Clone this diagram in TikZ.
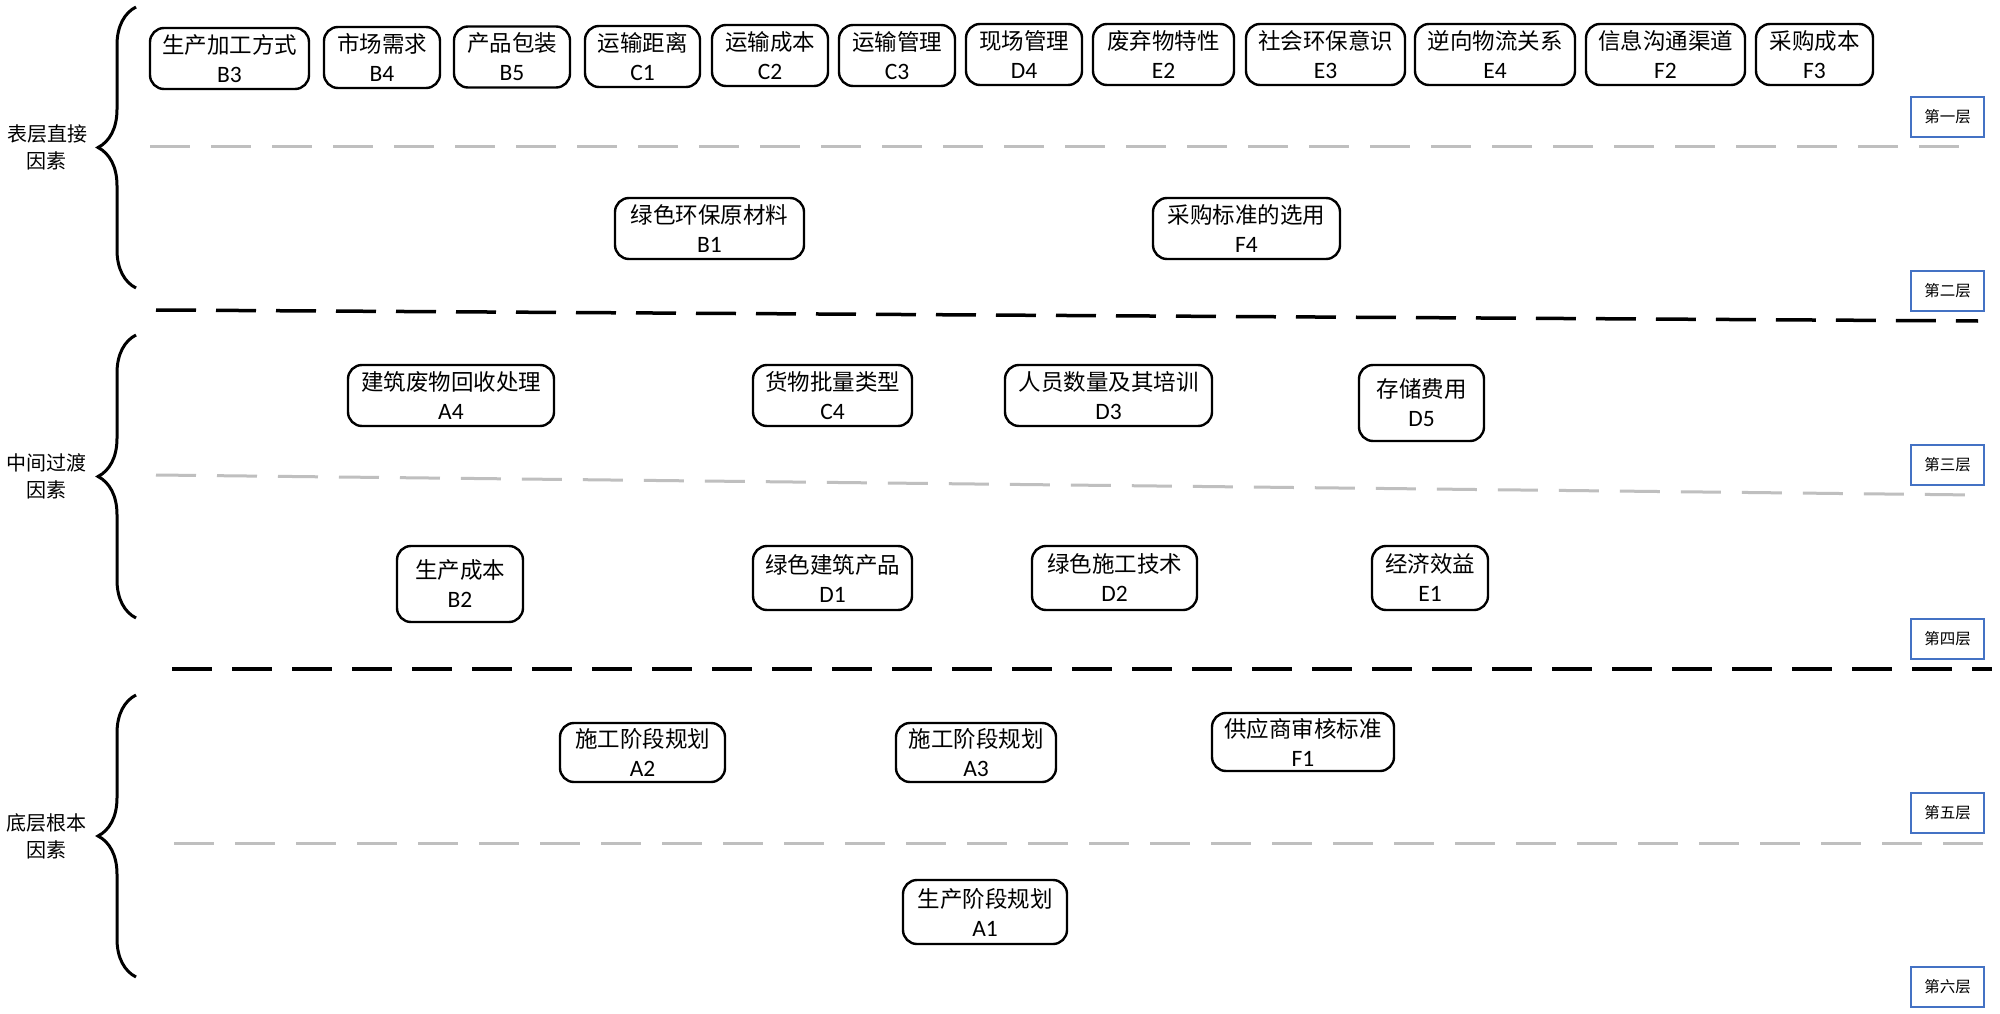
\documentclass[tikz,border=0pt]{standalone}
\usepackage{fontspec}
\setmainfont{Carlito}
\newfontfamily\cjk{Noto Sans CJK SC}
\usetikzlibrary{decorations.pathreplacing}
\definecolor{lvlblue}{RGB}{68,114,196}
\definecolor{sepgray}{RGB}{191,191,191}
\tikzset{
  fbox/.style={draw=black, line width=2.4pt, rounded corners=14pt, inner sep=0pt, align=center,
    font=\fontsize{22.5}{29}\selectfont},
  lvlbox/.style={draw=lvlblue, line width=2pt, fill=white, inner sep=0pt, minimum width=73pt,
    minimum height=40pt, font=\cjk\fontsize{15.5}{18}\selectfont},
  grouplabel/.style={align=center, inner sep=0pt, font=\cjk\fontsize{20}{27}\selectfont},
  graysep/.style={draw=sepgray, line width=3pt, dash pattern=on 40pt off 21pt},
  blacksep/.style={draw=black, line width=3.5pt, dash pattern=on 40pt off 20pt},
  bracestyle/.style={draw=black, line width=3pt, decorate, decoration={brace, amplitude=38pt}}
}
\newcommand\fac[6]{\node[fbox, minimum width=#4pt, minimum height=#5pt] (#1) at (#2,#3) {{\cjk #6}\\{\fontsize{23.5}{29}\selectfont #1}};}
\begin{document}
\begin{tikzpicture}[x=1pt,y=-1pt]
\useasboundingbox[fill=white] (0,0) rectangle (2000,1014);
% braces
\coordinate (br1t) at (136,7);   \coordinate (br1b) at (136,288);
\coordinate (br2t) at (136,335); \coordinate (br2b) at (136,618);
\coordinate (br3t) at (136,695); \coordinate (br3b) at (136,977);
\draw[bracestyle] (br1b) -- (br1t);
\draw[bracestyle] (br2b) -- (br2t);
\draw[bracestyle] (br3b) -- (br3t);
\node[grouplabel] (g1) at (47,147) {表层直接\\因素};
\node[grouplabel] (g2) at (46,476) {中间过渡\\因素};
\node[grouplabel] (g3) at (46,836) {底层根本\\因素};
% separators
\coordinate (s1a) at (150,147); \coordinate (s1b) at (1971,147);
\coordinate (s2a) at (156,310); \coordinate (s2b) at (1978,321);
\coordinate (s3a) at (156,475); \coordinate (s3b) at (1976,495);
\coordinate (s4a) at (172,669); \coordinate (s4b) at (1992,669);
\coordinate (s5a) at (174,843); \coordinate (s5b) at (1995,843);
\draw[graysep] (s1a) -- (s1b);
\draw[blacksep] (s2a) -- (s2b);
\draw[graysep] (s3a) -- (s3b);
\draw[blacksep] (s4a) -- (s4b);
\draw[graysep] (s5a) -- (s5b);
% layer 1
\fac{B3}{229.5}{58.5}{159}{61}{生产加工方式}
\fac{B4}{382}{57.5}{116}{61}{市场需求}
\fac{B5}{512}{57}{116}{61}{产品包装}
\fac{C1}{642.5}{56.5}{115}{61}{运输距离}
\fac{C2}{770}{55.5}{116}{61}{运输成本}
\fac{C3}{897}{55.5}{116}{61}{运输管理}
\fac{D4}{1024}{54.5}{116}{61}{现场管理}
\fac{E2}{1163.5}{54.5}{141}{61}{废弃物特性}
\fac{E3}{1325.5}{54.5}{159}{61}{社会环保意识}
\fac{E4}{1495}{54.5}{160}{61}{逆向物流关系}
\fac{F2}{1665.5}{54.5}{159}{61}{信息沟通渠道}
\fac{F3}{1814.5}{54.5}{117}{61}{采购成本}
% layer 2
\fac{B1}{709.5}{228.5}{189}{61}{绿色环保原材料}
\fac{F4}{1246.5}{228.5}{187}{61}{采购标准的选用}
% layer 3
\fac{A4}{451}{395.5}{206}{61}{建筑废物回收处理}
\fac{C4}{832.5}{395.5}{159}{61}{货物批量类型}
\fac{D3}{1108.5}{395.5}{207}{61}{人员数量及其培训}
\fac{D5}{1421.5}{403}{125}{76}{存储费用}
% layer 4
\fac{B2}{460}{584}{126}{76}{生产成本}
\fac{D1}{832.5}{578}{159}{64}{绿色建筑产品}
\fac{D2}{1114.5}{578}{165}{64}{绿色施工技术}
\fac{E1}{1430}{578}{116}{64}{经济效益}
% layer 5
\fac{A2}{642.5}{752.5}{165}{59}{施工阶段规划}
\fac{A3}{976}{752.5}{160}{59}{施工阶段规划}
\fac{F1}{1303}{742}{182}{58}{供应商审核标准}
% layer 6
\fac{A1}{985}{912}{164}{64}{生产阶段规划}
% layer labels
\node[lvlbox] (L1) at (1947.5,117) {第一层};
\node[lvlbox] (L2) at (1947.5,291) {第二层};
\node[lvlbox] (L3) at (1947.5,464.5) {第三层};
\node[lvlbox] (L4) at (1947.5,638.5) {第四层};
\node[lvlbox] (L5) at (1947.5,813) {第五层};
\node[lvlbox] (L6) at (1947.5,987) {第六层};
\end{tikzpicture}
\end{document}
